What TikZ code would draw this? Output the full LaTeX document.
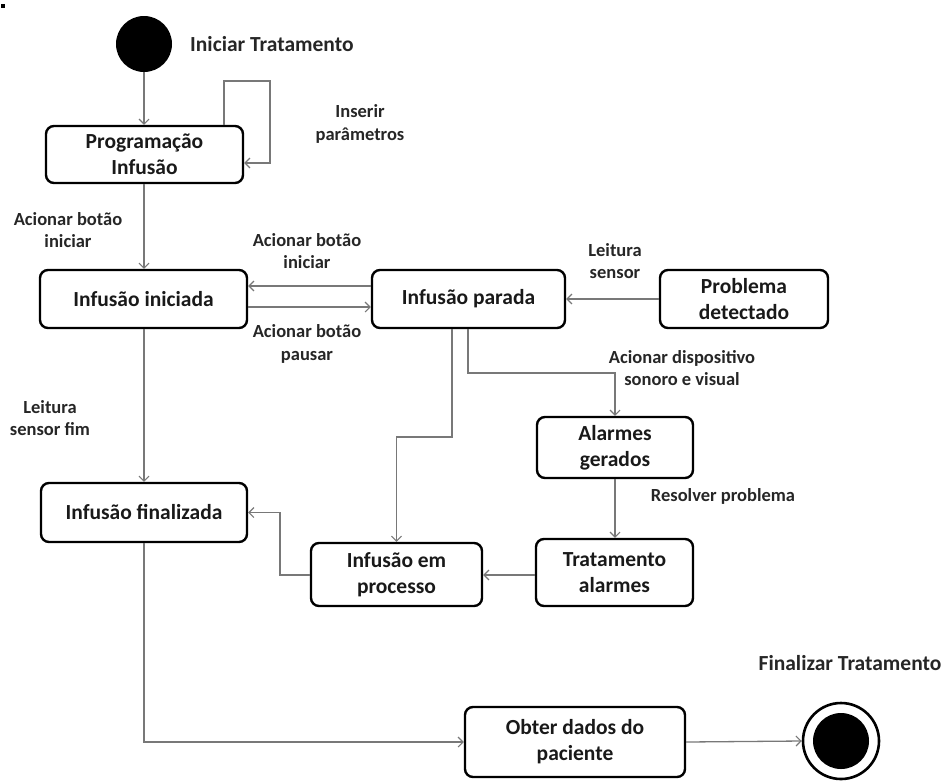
\documentclass[tikz,border=0pt]{standalone}
\usepackage{fontspec}
\setmainfont{Carlito}
\usetikzlibrary{arrows.meta,calc}
\definecolor{conncol}{RGB}{120,120,120}
\tikzset{
  statebox/.style={draw=black, line width=2.4pt, rounded corners=8pt, align=center,
    inner sep=0pt, font=\bfseries\fontsize{21.5}{26}\selectfont, text=black!90},
  conn/.style={draw=conncol, line width=1.3pt,
    -{Straight Barb[length=5pt,width=10pt,line width=1.1pt]}},
  lbl/.style={align=center, inner sep=0pt, font=\bfseries\fontsize{18.5}{22.5}\selectfont, text=black!85},
  biglbl/.style={align=center, inner sep=0pt, font=\bfseries\fontsize{21.5}{25}\selectfont, text=black!85}
}
\begin{document}
\begin{tikzpicture}[x=1pt,y=-1pt]
\useasboundingbox (0,0) rectangle (947,780);
\fill[black] (1,4) rectangle (5,8);

% initial / final
\node[circle, fill=black, minimum size=56pt, inner sep=0pt] (start) at (144,44) {};
\node[biglbl, anchor=west] (tstart) at (190,44) {Iniciar Tratamento};
\node[circle, draw=black, line width=2.6pt, minimum size=76pt, inner sep=0pt] (end) at (841,741) {};
\fill[black] (end.center) circle (28);
\node[biglbl] (tend) at (850,663) {Finalizar Tratamento};

% states
\node[statebox, minimum width=197pt, minimum height=57pt] (prog) at (144.5,154.5) {Programação\\Infusão};
\node[statebox, minimum width=207pt, minimum height=58pt] (ini) at (143.5,299) {Infusão iniciada};
\node[statebox, minimum width=193pt, minimum height=58pt] (par) at (468.5,299) {Infusão parada};
\node[statebox, minimum width=168pt, minimum height=58pt] (prob) at (744,299) {Problema\\detectado};
\node[statebox, minimum width=156pt, minimum height=61pt] (alarm) at (615,447.5) {Alarmes\\gerados};
\node[statebox, minimum width=157pt, minimum height=67pt] (trat) at (614.5,572.5) {Tratamento\\alarmes};
\node[statebox, minimum width=171pt, minimum height=63pt] (proc) at (396.5,574.5) {Infusão em\\processo};
\node[statebox, minimum width=206pt, minimum height=59pt] (fin) at (144,512.5) {Infusão finalizada};
\node[statebox, minimum width=220pt, minimum height=70pt] (obter) at (575,742) {Obter dados do\\paciente};

% labels
\node[lbl] (lins) at (360,124) {Inserir\\parâmetros};
\node[lbl] (lacl) at (68,230) {Acionar botão\\iniciar};
\node[lbl] (lact) at (307,251) {Acionar botão\\iniciar};
\node[lbl] (lpau) at (307,344) {Acionar botão\\pausar};
\node[lbl] (lls) at (615,261) {Leitura\\sensor};
\node[lbl] (ldisp) at (682,368) {Acionar dispositivo\\sonoro e visual};
\node[lbl] (lres) at (723,496) {Resolver problema};
\node[lbl] (lfim) at (50,418) {Leitura\\sensor fim};

% bend coordinates
\coordinate (l1) at (224,81);
\coordinate (l2) at (270,81);
\coordinate (l3) at (270,163);
\coordinate (ya) at (0,286);
\coordinate (yb) at (0,307);
\coordinate (b1) at (468,373);
\coordinate (c1) at (452,437);
\coordinate (yc) at (0,575);
\coordinate (d1) at (280,575);

% connectors
\draw[conn] (start) -- (prog.north -| start);
\draw[conn] (prog.north -| l1) -- (l1) -- (l2) -- (l3) -- (prog.east |- l3);
\draw[conn] (prog.south -| start) -- (ini.north -| start);
\draw[conn] (par.west |- ya) -- (ini.east |- ya);
\draw[conn] (ini.east |- yb) -- (par.west |- yb);
\draw[conn] (prob.west) -- (par.east);
\draw[conn] (par.south -| b1) -- (b1) -- (b1 -| alarm) -- (alarm.north);
\draw[conn] (par.south -| c1) -- (c1) -- (c1 -| proc) -- (proc.north);
\draw[conn] (alarm.south) -- (alarm.south |- trat.north);
\draw[conn] (trat.west |- yc) -- (proc.east |- yc);
\draw[conn] (proc.west |- d1) -- (d1) -- (d1 |- fin) -- (fin.east);
\draw[conn] (ini.south -| start) -- (fin.north -| start);
\draw[conn] (fin.south -| start) -- (start |- obter) -- (obter.west);
\draw[conn] (obter.east) -- (end.west);
\end{tikzpicture}
\end{document}
